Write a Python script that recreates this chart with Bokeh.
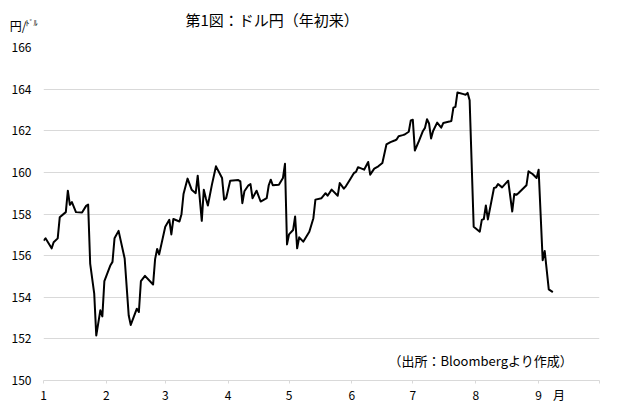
import pandas as pd
from bokeh.plotting import figure
from bokeh.layouts import column
from bokeh.models import ColumnDataSource, Range1d, FixedTicker, Label, LinearAxis
from bokeh.embed import file_html
from bokeh.resources import INLINE

# ---- data ----
dates = [
    "2024-01-01", "2024-01-02", "2024-01-05", "2024-01-06", "2024-01-08", "2024-01-09",
    "2024-01-12", "2024-01-13", "2024-01-14", "2024-01-15", "2024-01-17", "2024-01-20",
    "2024-01-22", "2024-01-23", "2024-01-24", "2024-01-26", "2024-01-27", "2024-01-29",
    "2024-01-30", "2024-01-31", "2024-02-03", "2024-02-04", "2024-02-05", "2024-02-07",
    "2024-02-10", "2024-02-12", "2024-02-13", "2024-02-16", "2024-02-17", "2024-02-18",
    "2024-02-20", "2024-02-24", "2024-02-25", "2024-02-26", "2024-02-27", "2024-03-01",
    "2024-03-03", "2024-03-04", "2024-03-05", "2024-03-08", "2024-03-09", "2024-03-10",
    "2024-03-12", "2024-03-14", "2024-03-16", "2024-03-17", "2024-03-19", "2024-03-20",
    "2024-03-21", "2024-03-22", "2024-03-24", "2024-03-26", "2024-03-29", "2024-03-30",
    "2024-03-31", "2024-04-02", "2024-04-06", "2024-04-07", "2024-04-08", "2024-04-09",
    "2024-04-11", "2024-04-12", "2024-04-13", "2024-04-15", "2024-04-17", "2024-04-20",
    "2024-04-21", "2024-04-22", "2024-04-23", "2024-04-26", "2024-04-28", "2024-04-29",
    "2024-04-30", "2024-05-01", "2024-05-03", "2024-05-04", "2024-05-05", "2024-05-06",
    "2024-05-08", "2024-05-11", "2024-05-13", "2024-05-14", "2024-05-17", "2024-05-19",
    "2024-05-20", "2024-05-22", "2024-05-25", "2024-05-26", "2024-05-28", "2024-05-29",
    "2024-05-31", "2024-06-02", "2024-06-03", "2024-06-04", "2024-06-07", "2024-06-09",
    "2024-06-10", "2024-06-12", "2024-06-14", "2024-06-16", "2024-06-18", "2024-06-20",
    "2024-06-22", "2024-06-23", "2024-06-24", "2024-06-26", "2024-06-27", "2024-06-29",
    "2024-06-30", "2024-07-01", "2024-07-02", "2024-07-04", "2024-07-06", "2024-07-07",
    "2024-07-08", "2024-07-09", "2024-07-10", "2024-07-11", "2024-07-13", "2024-07-15",
    "2024-07-16", "2024-07-19", "2024-07-20", "2024-07-21", "2024-07-22", "2024-07-23",
    "2024-07-26", "2024-07-27", "2024-07-28", "2024-07-29", "2024-07-31", "2024-08-03",
    "2024-08-04", "2024-08-05", "2024-08-06", "2024-08-07", "2024-08-10", "2024-08-11",
    "2024-08-12", "2024-08-14", "2024-08-17", "2024-08-19", "2024-08-20", "2024-08-21",
    "2024-08-22", "2024-08-26", "2024-08-27", "2024-08-29", "2024-08-31", "2024-09-01",
    "2024-09-03", "2024-09-04", "2024-09-06", "2024-09-08",
]
usdjpy = [
    156.72, 156.83, 156.35, 156.64, 156.83, 157.84,
    158.09, 159.12, 158.44, 158.57, 158.09, 158.07,
    158.39, 158.45, 155.62, 154.17, 152.16, 153.37,
    153.08, 154.78, 155.54, 155.70, 156.83, 157.19,
    155.86, 153.12, 152.67, 153.45, 153.29, 154.77,
    155.03, 154.61, 155.83, 156.32, 156.06, 157.39,
    157.72, 157.02, 157.76, 157.64, 157.99, 158.96,
    159.70, 159.17, 159.00, 159.84, 157.67, 159.17,
    158.76, 158.41, 159.41, 160.29, 159.73, 158.69,
    158.76, 159.60, 159.63, 159.57, 158.52, 159.09,
    159.38, 159.44, 158.76, 159.12, 158.60, 158.76,
    159.38, 159.65, 159.38, 159.41, 159.73, 160.41,
    156.54, 157.02, 157.23, 157.88, 156.35, 156.88,
    156.67, 157.15, 157.80, 158.69, 158.76, 159.00,
    158.88, 159.17, 158.88, 159.49, 159.22, 159.33,
    159.65, 159.97, 160.02, 160.25, 160.13, 160.50,
    159.89, 160.18, 160.29, 160.45, 161.34, 161.45,
    161.53, 161.58, 161.74, 161.79, 161.82, 161.95,
    162.50, 162.53, 161.05, 161.50, 161.99, 162.14,
    162.55, 162.35, 161.63, 161.99, 162.39, 162.15,
    162.37, 162.44, 162.47, 163.11, 163.15, 163.84,
    163.76, 163.73, 163.82, 163.47, 157.39, 157.15,
    157.72, 157.76, 158.41, 157.74, 159.25, 159.28,
    159.44, 159.28, 159.60, 158.12, 158.96, 158.92,
    159.00, 159.38, 160.05, 159.92, 159.73, 160.13,
    155.78, 156.22, 154.38, 154.25,
]
month_ticks = ["2024-01-01", "2024-02-01", "2024-03-01", "2024-04-01", "2024-05-01",
               "2024-06-01", "2024-07-01", "2024-08-01", "2024-09-01"]
month_labels = ["1", "2", "3", "4", "5", "6", "7", "8", "9"]
axis_end = "2024-10-01"
y_ticks = [150, 152, 154, 156, 158, 160, 162, 164, 166]

title_text = "第1図：ドル円（年初来）"
unit_text = "円/"
unit_small = "ﾄﾞﾙ"
source_text = "（出所：Bloombergより作成）"
month_unit = "月"

# layout / style settings
FONT = "Noto Sans CJK JP"
GRID = "#d9d9d9"
W = 643
HEAD_H = 37
MAIN_H = 370
MONTH_UNIT_AT = "2024-09-11"
UNIT_POS = 0.33        # height of the unit text inside the header strip (0 = bottom, 1 = top)
UNIT_SMALL_POS = 0.40


def ms(s):
    return (pd.Timestamp(s) - pd.Timestamp("1970-01-01")).total_seconds() * 1000.0


def text_axis(pos, txt, size, standoff):
    ax = LinearAxis(ticker=FixedTicker(ticks=[pos]), major_label_overrides={pos: txt})
    ax.axis_line_color = None
    ax.major_tick_line_color = None
    ax.minor_tick_line_color = None
    ax.major_tick_out = 0
    ax.major_tick_in = 0
    ax.minor_tick_out = 0
    ax.minor_tick_in = 0
    ax.major_label_standoff = standoff
    ax.major_label_text_font = FONT
    ax.major_label_text_font_size = size
    ax.major_label_text_color = "black"
    return ax


# ---- header strip (title and unit) ----
head = figure(width=W, height=HEAD_H, output_backend="svg", toolbar_location=None,
              title=None, x_axis_location=None, y_axis_location=None,
              x_range=Range1d(0, 1), y_range=Range1d(0, 1), min_border=0)
head.outline_line_color = None
head.grid.visible = False
head.background_fill_color = "white"
head.border_fill_color = "white"
head.add_layout(text_axis(UNIT_SMALL_POS, unit_small, "8px", 6), "left")
head.add_layout(text_axis(UNIT_POS, unit_text, "12px", -4), "left")
head.add_layout(Label(x=142, y=18, x_units="screen", y_units="screen", text=title_text,
                      text_font=FONT, text_font_size="15px", text_baseline="middle",
                      text_align="left", text_color="black"))

# ---- main chart ----
src = ColumnDataSource(dict(date=pd.to_datetime(dates), rate=usdjpy))

p = figure(width=W, height=MAIN_H, output_backend="svg", toolbar_location=None,
           title=None, x_axis_type="datetime",
           x_range=Range1d(pd.Timestamp(month_ticks[0]), pd.Timestamp(axis_end)),
           y_range=Range1d(y_ticks[0], y_ticks[-1]),
           min_border_left=43, min_border_right=44, min_border_top=10, min_border_bottom=27)
p.outline_line_color = None
p.background_fill_color = "white"
p.border_fill_color = "white"

p.line("date", "rate", source=src, line_color="black", line_width=2, line_join="round")

# x axis: visible tick marks are minor ticks; major ticks carry the labels
tick_ms = [ms(t) for t in month_ticks]
unit_ms = ms(MONTH_UNIT_AT)
p.xaxis.ticker = FixedTicker(ticks=tick_ms + [unit_ms], minor_ticks=tick_ms + [ms(axis_end)])
overrides = {t: l for t, l in zip(tick_ms, month_labels)}
overrides[unit_ms] = month_unit
p.xaxis.major_label_overrides = overrides
p.xaxis.axis_line_color = GRID
p.xaxis.major_tick_line_color = None
p.xaxis.minor_tick_line_color = GRID
p.xaxis.major_tick_out = 3
p.xaxis.major_tick_in = 0
p.xaxis.minor_tick_out = 3
p.xaxis.minor_tick_in = 0
p.xaxis.major_label_standoff = 2
p.xaxis.major_label_text_font = FONT
p.xaxis.major_label_text_font_size = "12px"
p.xaxis.major_label_text_color = "black"
p.xgrid.grid_line_color = None

# y axis
p.yaxis.ticker = FixedTicker(ticks=y_ticks)
p.yaxis.axis_line_color = None
p.yaxis.major_tick_line_color = None
p.yaxis.minor_tick_line_color = None
p.yaxis.major_tick_out = 0
p.yaxis.major_tick_in = 0
p.yaxis.minor_tick_out = 0
p.yaxis.major_label_standoff = 12
p.yaxis.major_label_text_font = FONT
p.yaxis.major_label_text_font_size = "12px"
p.yaxis.major_label_text_color = "black"
p.ygrid.grid_line_color = GRID
p.ygrid.grid_line_width = 1

p.add_layout(Label(x=345, y=20, x_units="screen", y_units="screen", text=source_text,
                   text_font=FONT, text_font_size="13px", text_baseline="middle",
                   text_align="left", text_color="black"))

layout = column(head, p, spacing=0)
open("out.html", "w").write(file_html(layout, INLINE))
